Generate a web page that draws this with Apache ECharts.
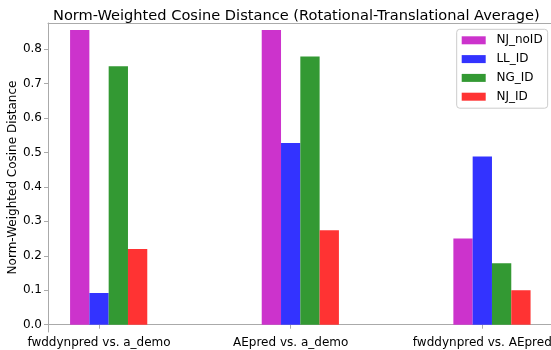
<!DOCTYPE html>
<html>
<head>
<meta charset="utf-8">
<script src="https://cdn.jsdelivr.net/npm/echarts@6/dist/echarts.min.js"></script>
<style>html,body{margin:0;padding:0;background:#fff;}#c{width:551px;height:350px;}</style>
</head>
<body>
<div id="c"></div>
<script>
const categories = ['fwddynpred vs. a_demo', 'AEpred vs. a_demo', 'fwddynpred vs. AEpred'];
const seriesNames = ['NJ_noID', 'LL_ID', 'NG_ID', 'NJ_ID'];
const NJ_noID = [0.855, 0.855, 0.250];
const LL_ID   = [0.092, 0.527, 0.488];
const NG_ID   = [0.750, 0.778, 0.178];
const NJ_ID   = [0.220, 0.274, 0.100];
const yTickLabels = ['0.0', '0.1', '0.2', '0.3', '0.4', '0.5', '0.6', '0.7', '0.8'];
const colors = ['#cc33cc', '#3333ff', '#339933', '#ff3333'];

const FONT = 'DejaVu Sans';
const spine = '#aaaaaa';
const yMin = -0.0212, yMax = 0.8755;
const TOP = 23, BOTTOM = 18;
const values = [NJ_noID, LL_ID, NG_ID, NJ_ID];
const yTicks = yTickLabels.map(Number);

const chart = echarts.init(document.getElementById('c'), null, {renderer: 'canvas'});
const hiddenY = (g) => ({type: 'value', gridIndex: g, min: yMin, max: yMax, show: false});
chart.setOption({
  animation: false,
  backgroundColor: '#ffffff',
  textStyle: {fontFamily: FONT},
  title: {
    text: 'Norm-Weighted Cosine Distance (Rotational-Translational Average)',
    left: 48, top: 4,
    textStyle: {fontFamily: FONT, fontSize: 14.6, fontWeight: 'normal', color: '#000'}
  },
  legend: {
    data: seriesNames,
    orient: 'vertical',
    left: 456.7, top: 29.3,
    padding: [5, 5, 5.5, 5],
    itemWidth: 24, itemHeight: 8, itemGap: 6.8,
    icon: 'rect',
    backgroundColor: 'rgba(255,255,255,0.8)',
    borderColor: '#cccccc', borderWidth: 1, borderRadius: 3,
    textStyle: {fontFamily: FONT, fontSize: 12, color: '#000', padding: [0, 0, 0, 5.7]}
  },
  grid: [
    {left: 48, right: 0, top: TOP, bottom: BOTTOM, outerBoundsMode: 'none', containLabel: false},
    {left: 3.2, width: 574.95, top: TOP, bottom: BOTTOM, outerBoundsMode: 'none', containLabel: false},
    {left: 12.85, width: 574.95, top: TOP, bottom: BOTTOM, outerBoundsMode: 'none', containLabel: false}
  ],
  xAxis: [
    {type: 'value', gridIndex: 0, position: 'bottom', min: 0, max: 1,
      axisLine: {show: true, lineStyle: {color: spine, width: 1}},
      axisTick: {show: false}, axisLabel: {show: false}, splitLine: {show: false}},
    {type: 'value', gridIndex: 0, position: 'top', min: 0, max: 1,
      axisLine: {show: true, lineStyle: {color: spine, width: 1}},
      axisTick: {show: false}, axisLabel: {show: false}, splitLine: {show: false}},
    {type: 'category', gridIndex: 1, data: categories, boundaryGap: true,
      axisLine: {show: false},
      axisTick: {show: true, alignWithLabel: true, length: 4, lineStyle: {color: spine}},
      axisLabel: {show: true, interval: 0, margin: 5, fontFamily: FONT, fontSize: 12, color: '#000', hideOverlap: false},
      splitLine: {show: false}},
    {type: 'category', gridIndex: 2, data: categories, show: false}
  ],
  yAxis: [
    {type: 'value', gridIndex: 0, min: yMin, max: yMax,
      name: 'Norm-Weighted Cosine Distance', nameLocation: 'middle', nameGap: 29, nameRotate: 90,
      nameMoveOverlap: false,
      nameTextStyle: {fontFamily: FONT, fontSize: 12, color: '#000'},
      axisLine: {show: true, lineStyle: {color: spine, width: 1}},
      axisTick: {show: true, inside: false, length: 4, customValues: yTicks, lineStyle: {color: spine}},
      axisLabel: {show: true, margin: 6, customValues: yTicks, fontFamily: FONT, fontSize: 12, color: '#000',
        formatter: (v) => Number(v).toFixed(1)},
      splitLine: {show: false}},
    hiddenY(1), hiddenY(2)
  ],
  series: seriesNames.map((name, i) => ({
    name: name,
    type: 'bar',
    xAxisIndex: 3,
    yAxisIndex: 2,
    data: values[i],
    barWidth: 19.3,
    barGap: '0%',
    itemStyle: {color: colors[i]},
    emphasis: {disabled: true}
  }))
});
</script>
</body>
</html>
